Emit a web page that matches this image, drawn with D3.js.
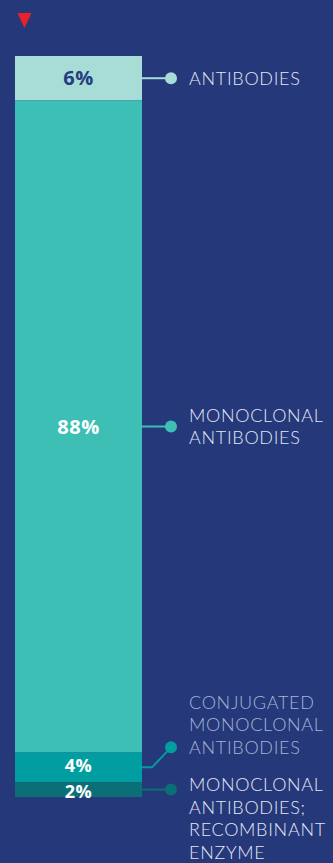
<!DOCTYPE html>
<html>
<head>
<meta charset="utf-8">
<script src="https://cdn.jsdelivr.net/npm/d3@7"></script>
<style>
  html, body { margin: 0; padding: 0; background: #24387a; }
  svg { display: block; }
</style>
</head>
<body>
<div id="chart"></div>
<script>
// Share of each antibody category (top to bottom in the column)
const categories = ["ANTIBODIES", "MONOCLONAL ANTIBODIES", "CONJUGATED MONOCLONAL ANTIBODIES", "MONOCLONAL ANTIBODIES; RECOMBINANT ENZYME"];
const shares = [6, 88, 4, 2];
const valueLabels = ["6%", "88%", "4%", "2%"];
const labelLines = [
  ["ANTIBODIES"],
  ["MONOCLONAL", "ANTIBODIES"],
  ["CONJUGATED", "MONOCLONAL", "ANTIBODIES"],
  ["MONOCLONAL", "ANTIBODIES;", "RECOMBINANT", "ENZYME"]
];

const W = 333, H = 863;
const fills = ["#a7dcd7", "#3ebfb6", "#009ea0", "#0a6f77"];
const valueColors = ["#263d7b", "#ffffff", "#ffffff", "#ffffff"];
// the two thin bottom segments get slightly smaller, spread-apart value labels
const valueSize = [20, 20, 18, 18];
const valueNudge = [0, 0, -1.5, 1.5];

const svg = d3.select("#chart").append("svg")
  .attr("width", W).attr("height", H);

svg.append("rect").attr("width", W).attr("height", H).attr("fill", "#24387a");

// red marker pointing down
svg.append("path")
  .attr("d", "M17.5,13 L31.5,13 L24.5,28 Z")
  .attr("fill", "#e8212b");

const x = d3.scaleBand().domain(["col"]).range([15, 142]).padding(0);
const y = d3.scaleLinear().domain([0, d3.sum(shares)]).range([56, 797]);

// cumulative starts, top to bottom
const starts = d3.cumsum([0, ...shares]).slice(0, shares.length);
const segs = shares.map((v, i) => ({
  i, v, name: categories[i], y0: starts[i], y1: starts[i] + v
}));

svg.selectAll("rect.seg").data(segs).join("rect")
  .attr("class", "seg")
  .attr("x", x("col"))
  .attr("width", x.bandwidth())
  .attr("y", d => y(d.y0))
  .attr("height", d => y(d.y1) - y(d.y0))
  .attr("fill", d => fills[d.i]);

svg.selectAll("text.val").data(segs).join("text")
  .attr("class", "val")
  .attr("x", x("col") + x.bandwidth() / 2)
  .attr("y", d => (y(d.y0) + y(d.y1)) / 2 + valueNudge[d.i])
  .attr("dy", "0.36em")
  .attr("text-anchor", "middle")
  .attr("font-family", "'Open Sans', Lato, sans-serif")
  .attr("font-weight", 700)
  .attr("font-size", d => valueSize[d.i])
  .attr("letter-spacing", 0.5)
  .attr("fill", d => valueColors[d.i])
  .text(d => valueLabels[d.i]);

// leader lines and dots
const barRight = x("col") + x.bandwidth();
const dotX = 171;
const dotShift = [0, 0, -20, 0];   // lift the small segment's dot to clear the next label
const lineH = 22.5;
const labelX = 189;

segs.forEach(d => {
  const my = (y(d.y0) + y(d.y1)) / 2;
  const dy = my + dotShift[d.i];
  const g = svg.append("g");
  const pts = dotShift[d.i] === 0
    ? [[barRight, my], [dotX, dy]]
    : [[barRight, my], [152, my], [dotX, dy]];
  g.append("path")
    .attr("d", d3.line()(pts))
    .attr("fill", "none")
    .attr("stroke", fills[d.i])
    .attr("stroke-width", 2);
  g.append("circle").attr("cx", dotX).attr("cy", dy).attr("r", 6)
    .attr("fill", fills[d.i]);

  const lines = labelLines[d.i];
  let firstY;
  if (d.i === 2) firstY = dy - (lines.length - 1) * lineH;        // last line aligned with dot
  else if (d.i === 3) firstY = dy - 5;                             // first line near the dot
  else firstY = dy - (lines.length - 1) * lineH / 2;
  const t = g.append("text")
    .attr("font-family", "Lato, 'Open Sans', sans-serif")
    .attr("font-weight", 300)
    .attr("font-size", 18)
    .attr("letter-spacing", 0.7)
    .attr("fill", d.i === 2 ? "#aab3d4" : "#e3e7f3");
  lines.forEach((ln, k) => {
    t.append("tspan").attr("x", labelX).attr("y", firstY + k * lineH)
      .attr("dy", "0.36em").text(ln);
  });
});
</script>
</body>
</html>
